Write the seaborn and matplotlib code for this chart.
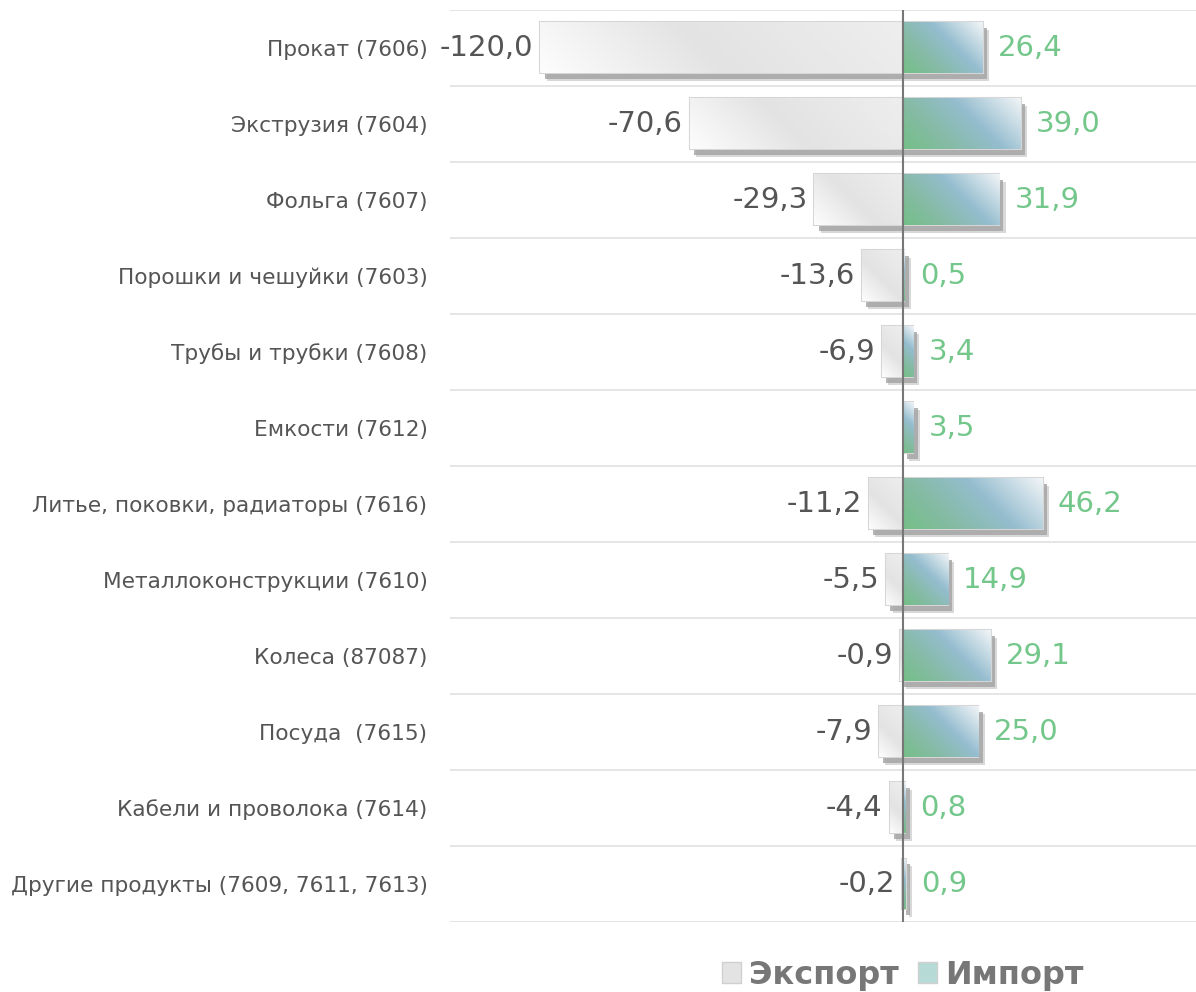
import numpy as np
import pandas as pd
import matplotlib
matplotlib.use("Agg")
import matplotlib.pyplot as plt
import matplotlib.patheffects as pe
from matplotlib.colors import LinearSegmentedColormap
from matplotlib.patches import Patch
import seaborn as sns

categories = [
    "Прокат (7606)",
    "Экструзия (7604)",
    "Фольга (7607)",
    "Порошки и чешуйки (7603)",
    "Трубы и трубки (7608)",
    "Емкости (7612)",
    "Литье, поковки, радиаторы (7616)",
    "Металлоконструкции (7610)",
    "Колеса (87087)",
    "Посуда  (7615)",
    "Кабели и проволока (7614)",
    "Другие продукты (7609, 7611, 7613)",
]
export = [-120.0, -70.6, -29.3, -13.6, -6.9, np.nan, -11.2, -5.5, -0.9, -7.9, -4.4, -0.2]
imports = [26.4, 39.0, 31.9, 0.5, 3.4, 3.5, 46.2, 14.9, 29.1, 25.0, 0.8, 0.9]
series = ["Экспорт", "Импорт"]

df = pd.DataFrame({
    "category": categories * 2,
    "value": export + imports,
    "series": [series[0]] * len(categories) + [series[1]] * len(categories),
})

sns.set_theme(style="white")
plt.rcParams["font.family"] = ["DejaVu Sans"]

fig = plt.figure(figsize=(11.96, 9.92), dpi=100)
ax = fig.add_axes([0.376, 0.0706, 0.624, 0.9194])

sns.barplot(data=df, x="value", y="category", hue="series", orient="h",
            dodge=False, width=0.67, palette=["#e6e6e6", "#9cc3cf"],
            errorbar=None, legend=False, ax=ax)

ax.set_xlim(-150, 97)
ax.set_ylim(11.5, -0.5)

# glossy diagonal gradients, as in the original
grey_cmap = LinearSegmentedColormap.from_list(
    "grey", [(0, "#fdfdfd"), (0.45, "#e3e3e3"), (1, "#eeeeee")])
blue_cmap = LinearSegmentedColormap.from_list(
    "blue", [(0, "#74bf87"), (0.3, "#86bba6"), (0.6, "#95bdcf"), (1, "#f2f5f7")])
uu, vv = np.meshgrid(np.linspace(0, 1, 96), np.linspace(0, 1, 96))

px_x = ax.bbox.width / 247.0
px_y = ax.bbox.height / 12.0

shadow = [
    pe.SimplePatchShadow(offset=(4.5, -5.5), shadow_rgbFace="#cfcfcf", alpha=0.8),
    pe.SimplePatchShadow(offset=(3, -4), shadow_rgbFace="#a3a3a3", alpha=0.8),
    pe.Normal(),
]

for cont, cmap, z in zip(ax.containers, [grey_cmap, blue_cmap], [2, 3]):
    for bar in cont:
        w = bar.get_width()
        if not np.isfinite(w) or w == 0:
            continue
        bar.set_zorder(z)
        bar.set_edgecolor("#d6d6d6")
        bar.set_linewidth(1.5)
        bar.set_path_effects(shadow)
        x0, x1 = sorted([bar.get_x(), bar.get_x() + w])
        y0, h = bar.get_y(), bar.get_height()
        wp, hp = abs(w) * px_x, h * px_y
        grad = (uu * wp + vv * hp) / (wp + hp)
        im = ax.imshow(grad, cmap=cmap, vmin=0, vmax=1, extent=(x0, x1, y0 + h, y0),
                       origin="lower", aspect="auto", zorder=z + 0.1,
                       interpolation="bilinear")
        im.set_clip_path(bar)


def fmt(v):
    return "" if not np.isfinite(v) else f"{v:.1f}".replace(".", ",")


ax.bar_label(ax.containers[0], labels=[fmt(v) for v in ax.containers[0].datavalues],
             padding=5, color="#555555", fontsize=21, zorder=6)
ax.bar_label(ax.containers[1], labels=[fmt(v) for v in ax.containers[1].datavalues],
             padding=11, color="#74c78b", fontsize=21, zorder=6)

ax.set_xlim(-150, 97)
ax.set_ylim(11.5, -0.5)
ax.set_xticks([])
ax.set_xlabel("")
ax.set_ylabel("")
ax.set_yticks(np.arange(-0.5, 12, 1), minor=True)
ax.grid(which="major", visible=False)
ax.grid(which="minor", axis="y", color="#e0e0e0", linewidth=1.2)
ax.tick_params(axis="y", which="both", length=0, pad=16, labelsize=15.6, labelcolor="#555555")
sns.despine(ax=ax, left=True, bottom=True)
ax.axvline(0, color="#777777", lw=1.5, zorder=5)

handles = [Patch(facecolor="#e3e3e3", edgecolor="#d0d0d0"),
           Patch(facecolor="#b6dbd6", edgecolor="#d0d0d0")]
fig.legend(handles, series, loc="center", bbox_to_anchor=(0.755, 0.017), ncol=2,
           frameon=False, prop={"weight": "bold", "size": 23}, labelcolor="#777777",
           handlelength=0.6, handleheight=0.6, handletextpad=0.25, columnspacing=0.6)

fig.savefig("out.png", dpi=100)
